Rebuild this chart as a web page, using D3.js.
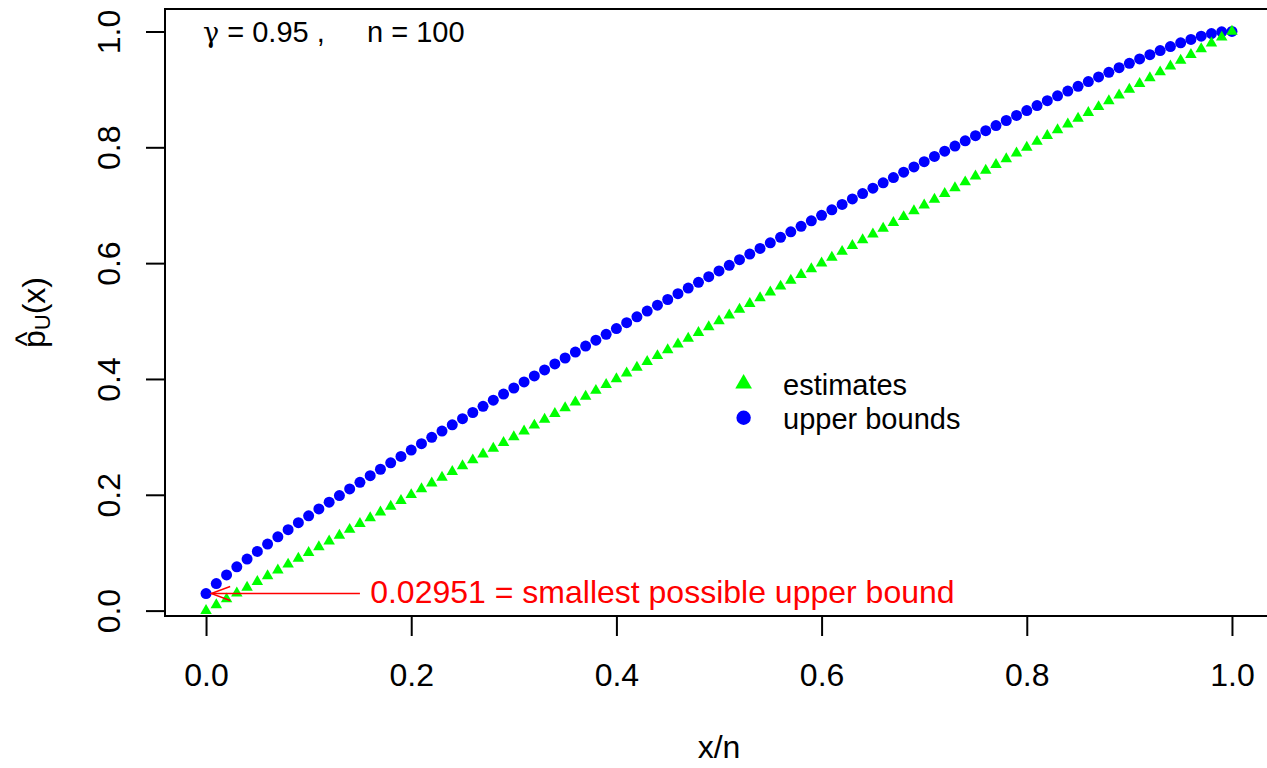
<!DOCTYPE html>
<html><head><meta charset="utf-8">
<script src="https://cdn.jsdelivr.net/npm/d3@7"></script>
<style>
body{margin:0;background:#fff}
svg{display:block}
text{font-family:"Liberation Sans",Arial,Helvetica,sans-serif}
</style>
</head><body>
<svg id="chart" width="1267" height="768"></svg>
<script>
// ---- data ----
const xOverN = [0,0.01,0.02,0.03,0.04,0.05,0.06,0.07,0.08,0.09,0.10,0.11,0.12,0.13,0.14,0.15,0.16,0.17,0.18,0.19,0.20,
0.21,0.22,0.23,0.24,0.25,0.26,0.27,0.28,0.29,0.30,0.31,0.32,0.33,0.34,0.35,0.36,0.37,0.38,0.39,0.40,
0.41,0.42,0.43,0.44,0.45,0.46,0.47,0.48,0.49,0.50,0.51,0.52,0.53,0.54,0.55,0.56,0.57,0.58,0.59,0.60,
0.61,0.62,0.63,0.64,0.65,0.66,0.67,0.68,0.69,0.70,0.71,0.72,0.73,0.74,0.75,0.76,0.77,0.78,0.79,0.80,
0.81,0.82,0.83,0.84,0.85,0.86,0.87,0.88,0.89,0.90,0.91,0.92,0.93,0.94,0.95,0.96,0.97,0.98,0.99,1.00];
const estimates = [0,0.01,0.02,0.03,0.04,0.05,0.06,0.07,0.08,0.09,0.10,0.11,0.12,0.13,0.14,0.15,0.16,0.17,0.18,0.19,0.20,
0.21,0.22,0.23,0.24,0.25,0.26,0.27,0.28,0.29,0.30,0.31,0.32,0.33,0.34,0.35,0.36,0.37,0.38,0.39,0.40,
0.41,0.42,0.43,0.44,0.45,0.46,0.47,0.48,0.49,0.50,0.51,0.52,0.53,0.54,0.55,0.56,0.57,0.58,0.59,0.60,
0.61,0.62,0.63,0.64,0.65,0.66,0.67,0.68,0.69,0.70,0.71,0.72,0.73,0.74,0.75,0.76,0.77,0.78,0.79,0.80,
0.81,0.82,0.83,0.84,0.85,0.86,0.87,0.88,0.89,0.90,0.91,0.92,0.93,0.94,0.95,0.96,0.97,0.98,0.99,1.00];
const upperBounds = [0.02951,0.0466,0.0616,0.0756,0.0890,0.1021,0.1149,0.1274,0.1397,0.1518,0.1637,
0.1755,0.1872,0.1987,0.2102,0.2216,0.2329,0.2441,0.2552,0.2663,0.2773,
0.2883,0.2992,0.3100,0.3208,0.3315,0.3421,0.3528,0.3633,0.3739,0.3844,
0.3948,0.4052,0.4156,0.4259,0.4362,0.4465,0.4567,0.4669,0.4770,0.4871,
0.4972,0.5073,0.5173,0.5273,0.5372,0.5472,0.5570,0.5669,0.5767,0.5865,
0.5963,0.6060,0.6157,0.6253,0.6350,0.6446,0.6541,0.6636,0.6731,0.6826,
0.6920,0.7014,0.7108,0.7201,0.7294,0.7386,0.7478,0.7570,0.7661,0.7752,
0.7843,0.7933,0.8022,0.8112,0.8200,0.8288,0.8376,0.8463,0.8550,0.8635,
0.8721,0.8805,0.8889,0.8972,0.9054,0.9136,0.9216,0.9295,0.9374,0.9450,
0.9526,0.9599,0.9670,0.9739,0.9805,0.9862,0.9918,0.9964,0.9995,1.0000];
const xTicks = [0,0.2,0.4,0.6,0.8,1.0];
const yTicks = [0,0.2,0.4,0.6,0.8,1.0];
const legendLabels = ["estimates","upper bounds"];
const gammaSymbol = "\u03B3";
const gammaRest = " = 0.95 ,";
const nText = "n = 100";
const annotationText = "0.02951 = smallest possible upper bound";
const xTitle = "x/n";

// ---- layout ----
const svg = d3.select("#chart");
const plot = {left:165, right:1273, top:9, bottom:616};
function pad(ext){const d = ext[1]-ext[0]; return [ext[0]-0.04*d, ext[1]+0.04*d];}
const x = d3.scaleLinear().domain(pad(d3.extent(xOverN))).range([plot.left, plot.right]);
const y = d3.scaleLinear().domain(pad(d3.extent(upperBounds))).range([plot.bottom, plot.top]);
const FONT = "'Liberation Sans',Arial,Helvetica,sans-serif";

// box
svg.append("rect").attr("x",plot.left).attr("y",plot.top)
  .attr("width",plot.right-plot.left).attr("height",plot.bottom-plot.top)
  .attr("fill","none").attr("stroke","#000").attr("stroke-width",2);

// x axis
const gx = svg.append("g").attr("transform",`translate(0,${plot.bottom})`)
  .call(d3.axisBottom(x).tickValues(xTicks).tickFormat(d3.format(".1f"))
        .tickSize(20).tickSizeOuter(0).tickPadding(27));
gx.attr("font-size",32).attr("font-family",FONT);
gx.select(".domain").attr("d",`M${x(xTicks[0])},0H${x(xTicks[xTicks.length-1])}`).attr("stroke-width",2);
gx.selectAll(".tick line").attr("stroke-width",2);
gx.selectAll(".tick text").attr("fill","#000");

// y axis
const gy = svg.append("g").attr("transform",`translate(${plot.left},0)`)
  .call(d3.axisLeft(y).tickValues(yTicks).tickFormat(d3.format(".1f"))
        .tickSize(19).tickSizeOuter(0));
gy.attr("font-size",32).attr("font-family",FONT);
gy.select(".domain").attr("d",`M0,${y(yTicks[0])}V${y(yTicks[yTicks.length-1])}`).attr("stroke-width",2);
gy.selectAll(".tick line").attr("stroke-width",2);
gy.selectAll(".tick text").attr("fill","#000").attr("x",0).attr("dy",null)
  .attr("text-anchor","middle").attr("transform","translate(-45,0) rotate(-90)");

// axis titles
svg.append("text").attr("x",x(0.5)).attr("y",758).attr("text-anchor","middle")
  .attr("font-size",32).attr("fill","#000").text(xTitle);

const yt = svg.append("g").attr("transform",`translate(44.5,${(plot.top+plot.bottom)/2}) rotate(-90)`);
const ytxt = yt.append("text").attr("font-size",32).attr("fill","#000").attr("text-anchor","start");
const tp = ytxt.append("tspan").text("p");
ytxt.append("tspan").attr("font-size",22).attr("dy",5).text("U");
ytxt.append("tspan").attr("dy",-5).text("(x)");
const totalW = ytxt.node().getComputedTextLength();
ytxt.attr("x",-totalW/2);
const pW = tp.node().getComputedTextLength();
yt.append("text").attr("x",-totalW/2+pW/2).attr("y",-8).attr("text-anchor","middle")
  .attr("font-size",32).attr("fill","#000").text("^");

// marks: upper bounds (circles) then estimates (triangles)
svg.append("g").selectAll("circle").data(upperBounds).join("circle")
  .attr("cx",(d,i)=>x(xOverN[i])).attr("cy",d=>y(d)).attr("r",5.5).attr("fill","#0000FF");
const tri = d3.symbol().type(d3.symbolTriangle).size(Math.sqrt(3)/4*11.5*11.5);
svg.append("g").selectAll("path").data(estimates).join("path")
  .attr("d",tri).attr("transform",(d,i)=>`translate(${x(xOverN[i])},${y(d)})`).attr("fill","#00FF00");

// legend
const legX = 0.524, legTextX = 0.5624, legY = [0.392, 0.333];
const legTri = d3.symbol().type(d3.symbolTriangle).size(Math.sqrt(3)/4*16.7*16.7);
svg.append("path").attr("d",legTri).attr("transform",`translate(${x(legX)},${y(legY[0])})`).attr("fill","#00FF00");
svg.append("circle").attr("cx",x(legX)).attr("cy",y(legY[1])).attr("r",7.2).attr("fill","#0000FF");
legendLabels.forEach((t,i)=>{
  svg.append("text").attr("x",x(legTextX)).attr("y",y(legY[i])+11.5)
    .attr("font-size",29).attr("fill","#000").text(t);
});

// top-left label
const gt = svg.append("text").attr("x",203).attr("y",42).attr("font-size",29).attr("fill","#000");
gt.append("tspan").attr("font-family","'DejaVu Serif','Liberation Serif',serif").attr("font-size",27).text(gammaSymbol);
gt.append("tspan").text(gammaRest);
svg.append("text").attr("x",367).attr("y",42).attr("font-size",29).attr("fill","#000").text(nText);

// red annotation arrow
const ay = y(upperBounds[0]);
const ax0 = x(0.15), ax1 = x(0.005);
svg.append("line").attr("x1",ax0).attr("y1",ay).attr("x2",ax1).attr("y2",ay)
  .attr("stroke","#FF0000").attr("stroke-width",1.4);
svg.append("path").attr("d",`M${ax1+19},${ay-7}L${ax1},${ay}L${ax1+19},${ay+7}`)
  .attr("stroke","#FF0000").attr("stroke-width",1.4).attr("fill","none");
svg.append("text").attr("x",x(0.16)).attr("y",ay+9).attr("font-size",32).attr("fill","#FF0000").text(annotationText);
</script>
</body></html>
